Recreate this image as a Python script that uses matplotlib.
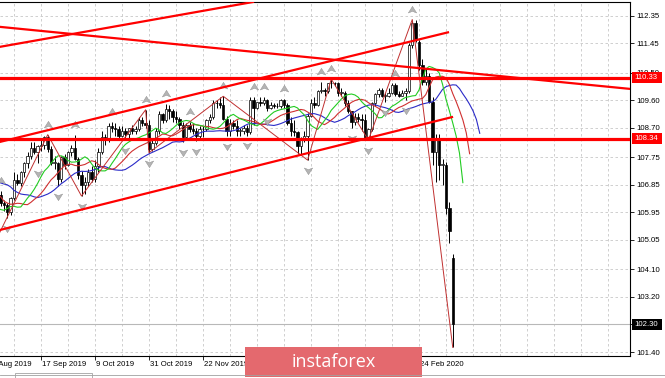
import numpy as np
import matplotlib.pyplot as plt
import matplotlib.transforms as mtransforms
from matplotlib.path import Path
from matplotlib.patches import Rectangle

plt.rcParams['font.family'] = ['Liberation Sans', 'DejaVu Sans']

# daily bars 1 Aug 2019 .. 9 Mar 2020, the first 17 sit left of the visible window
n_hidden = 17
opens = [108.75, 107.35, 106.60, 105.95, 106.45, 106.25, 106.05, 105.65, 105.30, 106.70, 105.90, 106.10, 106.35, 106.60, 106.25, 106.60, 106.45,
         105.40, 105.85, 105.75, 106.10, 106.50, 106.25, 106.20, 105.95, 106.40, 107.00, 106.90, 107.25, 107.55, 107.80, 108.05, 107.90,
         108.10, 108.15, 108.40, 108.00, 107.55, 107.55, 107.05, 107.75, 107.50, 107.90, 108.05, 107.70, 107.15, 106.85, 106.95, 107.25,
         107.05, 107.45, 107.90, 108.40, 108.35, 108.75, 108.70, 108.65, 108.45, 108.60, 108.50, 108.70, 108.60, 108.65, 108.95, 108.85,
         108.80, 108.00, 108.20, 108.60, 109.15, 108.95, 109.30, 109.25, 109.05, 109.00, 108.80, 108.40, 108.80, 108.65, 108.60, 108.45,
         108.65, 108.65, 108.95, 109.05, 109.50, 109.50, 109.45, 109.00, 108.60, 108.85, 108.75, 108.60, 108.60, 108.70, 108.55, 109.60,
         109.35, 109.55, 109.50, 109.60, 109.35, 109.45, 109.40, 109.40, 109.60, 109.45, 108.85, 108.60, 108.55, 108.10, 108.35, 108.45,
         109.10, 109.50, 109.45, 109.90, 109.95, 109.90, 110.15, 110.15, 110.15, 109.85, 109.85, 109.50, 109.25, 108.90, 109.05, 109.00,
         108.95, 108.35, 108.65, 109.50, 109.80, 109.95, 109.75, 109.75, 109.85, 110.10, 109.80, 109.75, 109.85, 109.90, 111.40, 112.10,
         111.50, 110.75, 110.20, 110.40, 109.55, 107.90, 108.30, 107.50, 107.50, 106.10, 104.45]
highs = [109.32, 107.50, 106.70, 106.90, 106.60, 106.50, 106.15, 105.75, 106.98, 106.75, 106.35, 106.55, 106.80, 106.70, 106.70, 106.75, 106.70,
         106.20, 106.05, 106.25, 106.60, 106.65, 106.35, 106.25, 106.45, 107.25, 107.20, 107.30, 107.60, 107.90, 108.25, 108.25, 108.15,
         108.30, 108.45, 108.48, 108.10, 107.80, 107.60, 107.80, 107.85, 107.95, 108.15, 108.47, 107.75, 107.30, 107.10, 107.35, 107.45,
         107.65, 108.05, 108.60, 108.50, 108.85, 108.90, 108.85, 108.75, 108.75, 108.70, 108.70, 108.80, 108.75, 109.05, 109.05, 109.29,
         108.95, 108.35, 108.70, 109.25, 109.20, 109.49, 109.45, 109.30, 109.25, 109.05, 108.90, 108.85, 108.90, 108.85, 108.70, 108.75,
         108.75, 109.00, 109.15, 109.60, 109.60, 109.70, 109.73, 109.10, 109.00, 108.95, 108.95, 108.70, 108.80, 108.80, 109.70, 109.72,
         109.55, 109.70, 109.70, 109.65, 109.55, 109.50, 109.50, 109.65, 109.65, 109.50, 109.05, 108.95, 108.60, 108.40, 108.60, 109.20,
         109.65, 109.70, 109.95, 110.20, 110.00, 110.15, 110.29, 110.20, 110.20, 110.00, 109.90, 109.60, 109.25, 109.20, 109.20, 109.15,
         109.15, 108.70, 109.55, 109.85, 110.00, 110.00, 109.85, 110.00, 110.15, 110.15, 109.90, 109.95, 110.00, 111.45, 112.23, 112.20,
         111.55, 110.95, 110.65, 110.50, 109.70, 108.50, 108.50, 107.70, 107.60, 106.30, 104.60]
lows = [107.21, 106.50, 105.52, 105.80, 105.50, 105.90, 105.30, 105.05, 105.20, 105.60, 105.70, 105.80, 106.20, 106.10, 106.20, 106.30, 105.20,
        104.45, 105.55, 105.60, 106.00, 106.15, 106.00, 105.75, 105.85, 106.35, 106.85, 106.80, 107.10, 107.40, 107.70, 107.85, 107.55,
        107.95, 108.00, 107.90, 107.50, 107.35, 106.80, 106.95, 107.35, 107.45, 107.80, 107.65, 107.05, 106.48, 106.55, 106.80, 106.95,
        106.95, 107.25, 107.85, 108.15, 108.25, 108.55, 108.45, 108.35, 108.40, 108.30, 108.35, 108.50, 108.50, 108.60, 108.75, 108.70,
        107.89, 107.95, 108.15, 108.50, 108.85, 108.90, 109.00, 108.90, 108.85, 108.65, 108.25, 108.30, 108.55, 108.50, 108.28, 108.35,
        108.40, 108.60, 108.85, 109.00, 109.35, 109.35, 108.95, 108.43, 108.45, 108.65, 108.45, 108.45, 108.50, 108.45, 108.50, 108.80,
        109.30, 109.40, 109.45, 109.25, 109.30, 109.35, 109.35, 109.35, 109.35, 108.80, 108.45, 108.45, 107.85, 107.85, 108.25, 107.65,
        109.05, 109.35, 109.40, 109.85, 109.75, 109.85, 110.00, 110.05, 109.75, 109.75, 109.40, 109.20, 108.70, 108.80, 108.90, 108.60,
        108.30, 108.30, 108.60, 109.40, 109.70, 109.70, 109.55, 109.70, 109.80, 109.75, 109.70, 109.75, 109.60, 109.85, 111.30, 111.50,
        110.60, 110.10, 110.10, 109.50, 107.50, 106.95, 107.00, 106.85, 105.90, 104.95, 101.55]
closes = [107.35, 106.60, 105.95, 106.45, 106.25, 106.05, 105.65, 105.30, 106.70, 105.90, 106.10, 106.35, 106.60, 106.25, 106.60, 106.45, 105.40,
          105.85, 105.75, 106.10, 106.50, 106.25, 106.20, 105.95, 106.40, 107.00, 106.90, 107.25, 107.55, 107.80, 108.05, 107.90, 108.10,
          108.15, 108.40, 108.00, 107.55, 107.55, 107.05, 107.75, 107.50, 107.90, 108.05, 107.70, 107.15, 106.85, 106.95, 107.25, 107.05,
          107.45, 107.90, 108.40, 108.35, 108.75, 108.70, 108.65, 108.45, 108.60, 108.50, 108.70, 108.60, 108.65, 108.95, 108.85, 108.80,
          108.00, 108.20, 108.60, 109.15, 108.95, 109.30, 109.25, 109.05, 109.00, 108.80, 108.40, 108.80, 108.65, 108.60, 108.45, 108.65,
          108.65, 108.95, 109.05, 109.50, 109.50, 109.45, 109.00, 108.60, 108.85, 108.75, 108.60, 108.60, 108.70, 108.55, 109.60, 109.35,
          109.55, 109.50, 109.60, 109.35, 109.45, 109.40, 109.40, 109.60, 109.45, 108.85, 108.60, 108.55, 108.10, 108.35, 108.45, 109.10,
          109.50, 109.45, 109.90, 109.95, 109.90, 110.15, 110.15, 110.15, 109.85, 109.85, 109.50, 109.25, 108.90, 109.05, 109.00, 108.95,
          108.35, 108.65, 109.50, 109.80, 109.95, 109.75, 109.75, 109.85, 110.10, 109.80, 109.75, 109.85, 109.90, 111.40, 112.10, 111.60,
          110.75, 110.20, 110.40, 109.55, 107.90, 108.30, 107.50, 107.50, 106.10, 105.35, 102.30]

# x axis labels (bar index, 0 = 26 Aug 2019)
date_idx = [0, 16, 32, 48, 64, 80, 96, 112, 128]
date_labels = ['26 Aug 2019', '17 Sep 2019', '9 Oct 2019', '31 Oct 2019', '22 Nov 2019',
               '16 Dec 2019', '9 Jan 2020', '31 Jan 2020', '24 Feb 2020']
price_ticks = [112.35, 111.45, 110.50, 109.60, 108.70, 107.75, 106.85, 105.95, 105.05, 104.10, 103.20, 102.30, 101.40]

levels = [110.33, 108.34]
last_price = 102.30

# zigzag turning points (bar index), starting from a low
zz_idx = [0, 18, 28, 47, 48, 70, 95, 102, 113, 126, 138]

# hand drawn trend lines, (bar, price) pairs
trend_rays = [((3.85, 111.34), (78.8, 112.80)),
              ((3.85, 111.99), (190.5, 109.97))]
trend_segs = [((0.0, 108.14), (136.9, 111.82)),
              ((0.0, 105.27), (138.1, 109.06))]

o = np.array(opens)
h = np.array(highs)
l = np.array(lows)
c = np.array(closes)
idx = np.arange(len(c)) - n_hidden
med = (h + l) / 2


def smma(vals, period):
    out = np.empty(len(vals))
    out[0] = vals[0]
    for k in range(1, len(vals)):
        out[k] = (out[k - 1] * (period - 1) + vals[k]) / period
    return out


W, H = 665, 378
fig = plt.figure(figsize=(W / 100, H / 100), dpi=100)
ax = fig.add_axes([0, 22 / H, 630 / W, 354 / H])
px_bar = 3.375
ax.set_xlim(13 / px_bar, (630 + 13) / px_bar)
ax.set_ylim(101.27, 112.80)

# grid
for gx in range(8, 192, 8):
    ax.axvline(gx, color='#c8c8c8', lw=0.6, ls=(0, (3, 3)), zorder=0)
for p in price_ticks:
    ax.axhline(p, color='#c8c8c8', lw=0.6, ls=(0, (3, 3)), zorder=0)
ax.axhline(last_price, color='#b8b8b8', lw=0.8, zorder=1)

# candles
ax.vlines(idx, l, h, color='black', lw=0.7, zorder=2)
body_lo = np.minimum(o, c)
body_h = np.maximum(np.abs(c - o), 0.025)
ax.bar(idx, body_h, bottom=body_lo, width=0.72,
       color=['white' if cc >= oo else 'black' for oo, cc in zip(o, c)],
       edgecolor='black', linewidth=0.5, zorder=3)

# alligator
ax.plot(idx + 8, smma(med, 13), color='#2a2ac8', lw=0.8, zorder=4)
ax.plot(idx + 5, smma(med, 8), color='#d03030', lw=0.8, zorder=4)
ax.plot(idx + 3, smma(med, 5), color='#22cc22', lw=0.8, zorder=4)

# zigzag
zz_p = [l[i + n_hidden] if k % 2 == 0 else h[i + n_hidden] for k, i in enumerate(zz_idx)]
ax.plot(zz_idx, zz_p, color='#c03030', lw=0.7, zorder=4)

# fractals
N = len(c)
fr_up = [k for k in range(2, N - 2)
         if h[k] >= h[k - 1] and h[k] >= h[k - 2] and h[k] > h[k + 1] and h[k] > h[k + 2]]
fr_dn = [k for k in range(2, N - 2)
         if l[k] <= l[k - 1] and l[k] <= l[k - 2] and l[k] < l[k + 1] and l[k] < l[k + 2]]
up_mk = Path([(0, 1), (1, -0.6), (0, -0.2), (-1, -0.6), (0, 1)],
             [Path.MOVETO, Path.LINETO, Path.LINETO, Path.LINETO, Path.CLOSEPOLY])
dn_mk = Path([(0, -1), (1, 0.6), (0, 0.2), (-1, 0.6), (0, -1)],
             [Path.MOVETO, Path.LINETO, Path.LINETO, Path.LINETO, Path.CLOSEPOLY])
ax.scatter(idx[fr_up], h[fr_up] + 0.32, marker=up_mk, s=36, c='#b4b4b4',
           edgecolors='#8c8c8c', linewidths=0.3, zorder=5)
ax.scatter(idx[fr_dn], l[fr_dn] - 0.32, marker=dn_mk, s=36, c='#b4b4b4',
           edgecolors='#8c8c8c', linewidths=0.3, zorder=5)

# levels and trend lines
for p in levels:
    ax.axhline(p, color='#ff0000', lw=2.3, zorder=6)
for a, b in trend_rays:
    ax.axline(a, b, color='#ff0000', lw=1.6, zorder=6)
for a, b in trend_segs:
    ax.plot([a[0], b[0]], [a[1], b[1]], color='#ff0000', lw=1.6, zorder=6, solid_capstyle='butt')

# frame
ax.spines['left'].set_visible(False)
for s in ['right', 'top', 'bottom']:
    ax.spines[s].set_color('black')
    ax.spines[s].set_linewidth(0.8)

ax.yaxis.tick_right()
ax.set_yticks(price_ticks)
ax.set_yticklabels([f'{p:.2f}' for p in price_ticks])
ax.tick_params(axis='y', length=3, width=0.6, labelsize=5.6, pad=1.5, colors='black')

lo, hi = ax.get_xlim()
ax.set_xticks([i for i in date_idx if lo <= i <= hi])
ax.set_xticklabels([])
ax.tick_params(axis='x', length=3, width=0.6)

tx = mtransforms.blended_transform_factory(ax.transData, ax.transAxes)
for i, lab in zip(date_idx, date_labels):
    ax.text(i + 0.3, -8 / 354, lab, transform=tx, ha='left', va='center',
            fontsize=5.6, color='black', clip_on=False)

# price boxes on the right scale
ty = mtransforms.blended_transform_factory(ax.transAxes, ax.transData)
box_h = 11 / 30.7
for p, col in [(levels[0], '#ff0000'), (levels[1], '#ff0000'), (last_price, 'black')]:
    ax.add_patch(Rectangle((1 + 2 / 630, p - box_h / 2), 30 / 630, box_h, transform=ty,
                           facecolor=col, edgecolor='none', clip_on=False, zorder=9))
    ax.text(1 + 4 / 630, p, f'{p:.2f}', transform=ty, ha='left', va='center',
            fontsize=5.6, color='white', zorder=10, clip_on=False)

# bottom tab strip
fig.add_artist(plt.Line2D([0, 1], [3.5 / H, 3.5 / H], color='#a0a0a0', lw=0.6))
fig.add_artist(Rectangle((15 / W, 0), 77 / W, 5 / H, facecolor='white', edgecolor='#909090', lw=0.5))

# watermark
logo = fig.add_axes([245 / W, 1 / H, 177 / W, 30 / H])
logo.set_facecolor('#e4696e')
logo.set_xticks([])
logo.set_yticks([])
for s in logo.spines.values():
    s.set_visible(False)
logo.text(0.5, 0.32, 'instaforex', ha='center', va='baseline', fontsize=13,
          color='white', family='Open Sans', transform=logo.transAxes)

fig.savefig('out.png', dpi=100)
